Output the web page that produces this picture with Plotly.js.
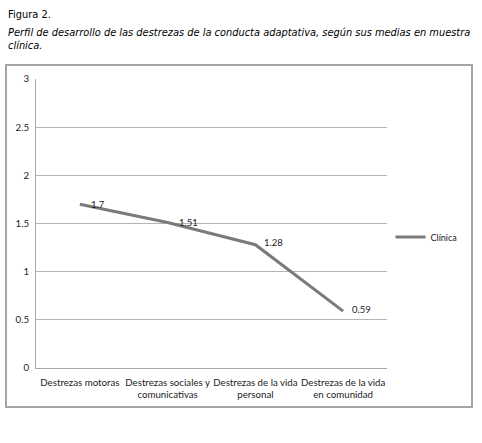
<!DOCTYPE html>
<html><head><meta charset="utf-8">
<script src="https://cdn.plot.ly/plotly-3.0.1.min.js"></script>
<style>body{margin:0;background:#fff}#c{width:482px;height:443px}</style>
</head><body><div id="c"></div>
<script>
const categories = ["Destrezas motoras", "Destrezas sociales y<br>comunicativas", "Destrezas de la vida<br>personal", "Destrezas de la vida<br>en comunidad"];
const clinica = [1.7, 1.51, 1.28, 0.59];
const valueLabels = ["1.7", "1.51", "1.28", "0.59"];
const yTicks = [0, 0.5, 1, 1.5, 2, 2.5, 3];
const yTickLabels = ["0", "0.5", "1", "1.5", "2", "2.5", "3"];
const seriesName = "Clínica";

const chartFont = "Lato, 'Open Sans', sans-serif";
const trace = {
  x: categories, y: clinica, type: 'scatter', mode: 'lines',
  name: seriesName,
  line: {color: '#7a7a7a', width: 3},
  cliponaxis: false
};
const labelAnns = categories.map((c, i) => ({
  x: c, y: clinica[i], xref: 'x', yref: 'y', text: valueLabels[i],
  showarrow: false, xanchor: 'left', yanchor: 'middle',
  xshift: i < 2 ? 9 : 7, yshift: i < 2 ? 0 : 2,
  font: {family: chartFont, size: 9.5, color: '#222'}
}));
const layout = {
  width: 482, height: 443,
  margin: {l: 36, r: 95, t: 79, b: 75},
  paper_bgcolor: '#fff', plot_bgcolor: '#fff',
  showlegend: true,
  legend: {x: 1.01, y: 0.453, xanchor: 'left', yanchor: 'middle',
           font: {family: chartFont, size: 9, color: '#222'}, itemwidth: 30},
  xaxis: {type: 'category', range: [-0.5, 3.5], showgrid: false, zeroline: false,
          showline: true, linecolor: '#a8a8a8', linewidth: 1, ticks: '', ticklabelstandoff: 5,
          tickfont: {family: chartFont, size: 9.7, color: '#222'}, fixedrange: true},
  yaxis: {range: [0, 3], tickvals: yTicks, ticktext: yTickLabels, showgrid: true,
          gridcolor: '#b4b4b4', gridwidth: 1, zeroline: false, showline: true,
          linecolor: '#a8a8a8', linewidth: 1, ticks: '', ticklabelstandoff: 4,
          tickfont: {family: chartFont, size: 9.7, color: '#222'}, fixedrange: true},
  shapes: [{type: 'rect', xref: 'paper', yref: 'paper',
            x0: (6-36)/351, x1: (472-36)/351, y0: (368-407)/289, y1: (368-65)/289,
            line: {color: '#a6a6a6', width: 2}, layer: 'below'}],
  annotations: [
    {xref: 'paper', yref: 'paper', x: -30/351, y: (368-15)/289, xanchor: 'left', yanchor: 'middle',
     text: 'Figura 2.', showarrow: false, font: {family: 'DejaVu Sans', size: 9.85, color: '#000'}},
    {xref: 'paper', yref: 'paper', x: -30/351, y: (368-39)/289, xanchor: 'left', yanchor: 'middle', align: 'left',
     text: '<i>Perfil de desarrollo de las destrezas de la conducta adaptativa, según sus medias en muestra<br>clínica.</i>',
     showarrow: false, font: {family: 'DejaVu Sans', size: 9.85, color: '#000'}}
  ].concat(labelAnns)
};
Plotly.newPlot('c', [trace], layout, {displayModeBar: false, staticPlot: true});
</script></body></html>
